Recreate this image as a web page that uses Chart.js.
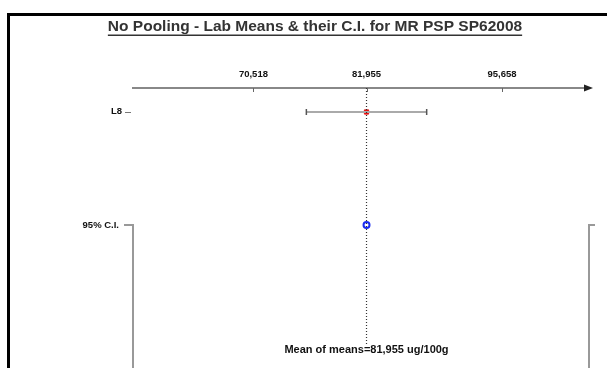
<!DOCTYPE html>
<html>
<head>
<meta charset="utf-8">
<script src="https://cdn.jsdelivr.net/npm/chart.js@4"></script>
<style>
  html, body { margin: 0; padding: 0; background: #fff; overflow: hidden; }
  #wrap { position: relative; width: 607px; height: 368px; overflow: hidden; }
  #frame { position: absolute; left: 7px; top: 13px; width: 800px; height: 600px; border: 3px solid #000; }
  canvas { position: absolute; left: 0; top: 0; }
</style>
</head>
<body>
<div id="wrap">
  <div id="frame"></div>
  <canvas id="myChart" width="607" height="368"></canvas>
</div>
<script>
var title = "No Pooling - Lab Means & their C.I. for MR PSP SP62008";
var labs = ["L8"];
var labMeans = [81955];
var labLower = [75870];
var labUpper = [88040];
var meanOfMeans = 81955;
var tickValues = [70518, 81955, 95658];
var tickLabels = ["70,518", "81,955", "95,658"];
var ciLabel = "95% C.I.";
var meanLabel = "Mean of means=81,955 ug/100g";

// rows on the (hidden) vertical scale
var labRow = [2.4];
var ciRow = 13.7;
var dotEnd = 25.6;
var textRow = 26.2;

var overlay = {
  id: "overlay",
  afterDraw: function (chart) {
    var ctx = chart.ctx;
    var xs = chart.scales.x, ys = chart.scales.y;
    var area = chart.chartArea;
    ctx.save();

    // title with underline
    ctx.font = "bold 15.5px 'Liberation Sans', Arial, sans-serif";
    ctx.fillStyle = "#333";
    ctx.textAlign = "center";
    ctx.textBaseline = "middle";
    var tx = 315, ty = 27;
    ctx.fillText(title, tx, ty);
    var w = ctx.measureText(title).width;
    ctx.fillRect(tx - w / 2, ty + 7.5, w, 1.5);

    // axis arrow + tick marks below the axis
    var ay = area.top;
    ctx.fillStyle = "#222";
    ctx.beginPath();
    ctx.moveTo(area.right + 4, ay);
    ctx.lineTo(area.right - 5, ay - 3.5);
    ctx.lineTo(area.right - 5, ay + 3.5);
    ctx.closePath();
    ctx.fill();
    ctx.strokeStyle = "#666";
    ctx.lineWidth = 1;
    tickValues.forEach(function (v) {
      var px = Math.round(xs.getPixelForValue(v)) + 0.5;
      ctx.beginPath();
      ctx.moveTo(px, ay);
      ctx.lineTo(px, ay + 4);
      ctx.stroke();
    });

    // row labels
    ctx.font = "bold 9.5px 'Liberation Sans', Arial, sans-serif";
    ctx.fillStyle = "#111";
    ctx.textAlign = "right";
    labs.forEach(function (l, i) {
      var py = ys.getPixelForValue(labRow[i]);
      ctx.fillText(l, 122, py - 1);
      ctx.strokeStyle = "#777";
      ctx.beginPath();
      ctx.moveTo(125, Math.round(py) + 0.5);
      ctx.lineTo(131, Math.round(py) + 0.5);
      ctx.stroke();
    });
    var cy = ys.getPixelForValue(ciRow);
    ctx.fillText(ciLabel, 119, cy);

    // brackets for the C.I. band
    ctx.strokeStyle = "#999";
    ctx.lineWidth = 2;
    ctx.beginPath();
    ctx.moveTo(area.left - 9, cy);
    ctx.lineTo(area.left, cy);
    ctx.lineTo(area.left, area.bottom + 2);
    ctx.stroke();
    ctx.beginPath();
    ctx.moveTo(area.right + 6, cy);
    ctx.lineTo(area.right, cy);
    ctx.lineTo(area.right, area.bottom + 2);
    ctx.stroke();

    // mean text
    ctx.font = "bold 11px 'Liberation Sans', Arial, sans-serif";
    ctx.textAlign = "center";
    ctx.fillStyle = "#111";
    ctx.fillText(meanLabel, xs.getPixelForValue(meanOfMeans), ys.getPixelForValue(textRow));
    ctx.restore();
  }
};

var datasets = [
  {
    type: "line",
    data: [{ x: meanOfMeans, y: 0 }, { x: meanOfMeans, y: dotEnd }],
    borderColor: "#333",
    borderWidth: 1.2,
    borderDash: [1, 2],
    pointRadius: 0
  }
];
labs.forEach(function (l, i) {
  datasets.push({
    type: "line",
    data: [{ x: labLower[i], y: labRow[i] }, { x: labUpper[i], y: labRow[i] }],
    borderColor: "#aaa",
    borderWidth: 2,
    pointStyle: "line",
    rotation: 90,
    pointRadius: 3,
    pointBorderColor: "#555",
    pointBorderWidth: 1.5
  });
  datasets.push({
    type: "scatter",
    data: [{ x: labMeans[i], y: labRow[i] }],
    pointStyle: "rect",
    pointRadius: 3,
    backgroundColor: "#e81010",
    borderColor: "#e81010",
    borderWidth: 1
  });
});
datasets.push({
  type: "scatter",
  data: [{ x: meanOfMeans, y: ciRow }],
  pointRadius: 3,
  backgroundColor: "#fff",
  borderColor: "#1a2cf0",
  borderWidth: 2
});

var ctx = document.getElementById("myChart");
var myChart = new Chart(ctx, {
  type: "scatter",
  data: { datasets: datasets },
  options: {
    responsive: false,
    animation: false,
    layout: { autoPadding: false, padding: { left: 133, right: 18, top: 0, bottom: 0 } },
    plugins: {
      legend: { display: false },
      title: { display: false },
      tooltip: { enabled: false }
    },
    scales: {
      x: {
        type: "linear",
        position: "top",
        min: 58336,
        max: 104459,
        afterFit: function (scale) { scale.height = 88; },
        afterBuildTicks: function (scale) {
          scale.ticks = tickValues.map(function (v) { return { value: v }; });
        },
        ticks: {
          padding: 8,
          autoSkip: false,
          maxRotation: 0,
          color: "#111",
          font: { family: "'Liberation Sans', Arial, sans-serif", size: 9.5, weight: "bold" },
          callback: function (v) {
            var i = tickValues.indexOf(v);
            return i >= 0 ? tickLabels[i] : "";
          }
        },
        grid: { display: true, drawOnChartArea: false, drawTicks: false },
        border: { display: true, color: "#888", width: 2 }
      },
      y: {
        type: "linear",
        reverse: true,
        min: 0,
        max: 28,
        display: false
      }
    }
  },
  plugins: [overlay]
});
</script>
</body>
</html>
